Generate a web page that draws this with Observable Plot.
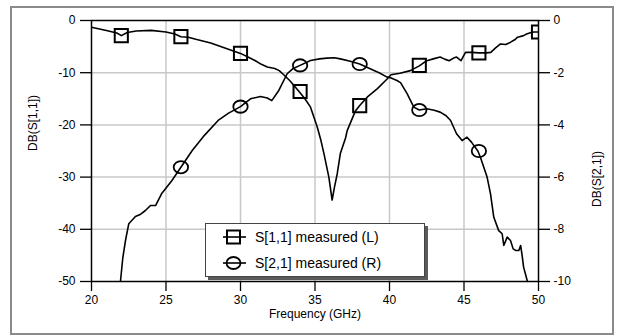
<!DOCTYPE html>
<html>
<head>
<meta charset="utf-8">
<script src="https://cdn.jsdelivr.net/npm/d3@7"></script>
<script src="https://cdn.jsdelivr.net/npm/@observablehq/plot@0.6"></script>
<style>
  body { margin: 0; background: #fff; font-family: "Liberation Sans", Arial, sans-serif; }
  #wrap { position: relative; width: 617px; height: 336px; }
  #outer { position: absolute; left: 10px; top: 6px; width: 604px; height: 329px; box-sizing: border-box; border: 2px solid #8a8a8a; pointer-events: none; }
  #legend { position: absolute; left: 205px; top: 223px; width: 220px; height: 54px; box-sizing: border-box; border: 1px solid #444; background: #fff; box-shadow: 3px 3px 0 #5a5a5a; font-size: 14px; color: #000; }
  .row { position: absolute; left: 16px; height: 20px; display: flex; align-items: center; }
  .row svg { margin-right: 8px; }
</style>
</head>
<body>
<div id="wrap">
  <div id="chart"></div>
  <div id="outer"></div>
  <div id="legend">
    <div class="row" style="top:3px"><svg width="25" height="20"><line x1="1" y1="10" x2="24" y2="10" stroke="#000" stroke-width="1.6"/><rect x="5" y="3.5" width="13" height="13" fill="none" stroke="#000" stroke-width="2"/></svg><span>S[1,1] measured (L)</span></div>
    <div class="row" style="top:29px"><svg width="25" height="20"><line x1="1" y1="10" x2="24" y2="10" stroke="#000" stroke-width="1.6"/><ellipse cx="11.5" cy="10" rx="7" ry="6" fill="none" stroke="#000" stroke-width="1.8"/></svg><span>S[2,1] measured (R)</span></div>
  </div>
</div>
<script>
// S[1,1] measured, dB (left axis)
const s11Freq = [20.0,21.0,21.7,22.0,22.4,23.0,24.0,25.0,25.6,26.0,26.5,27.0,28.0,29.0,30.0,30.5,31.0,31.4,31.8,32.3,32.6,32.9,33.3,33.9,34.3,34.7,35.15,35.4,35.6,35.93,36.15,36.3,36.49,36.7,37.05,37.16,37.7,38.0,38.5,39.17,39.84,40.1,40.7,41.4,42.0,42.5,43.0,43.4,43.7,44.0,44.3,44.5,44.8,45.1,45.5,46.0,46.5,46.8,47.1,47.45,47.8,48.1,48.4,48.6,49.0,49.2,49.5,49.7,50.0];
const s11dB = [-1.3,-1.9,-2.4,-2.9,-2.3,-2.0,-1.9,-2.2,-2.6,-3.1,-3.2,-3.6,-4.3,-5.3,-6.3,-7.0,-7.7,-8.4,-8.9,-9.2,-9.6,-10.4,-11.5,-13.5,-14.9,-16.6,-20.4,-23.0,-25.5,-30.0,-34.4,-32.0,-29.4,-25.5,-22.5,-21.1,-17.4,-16.3,-14.7,-13.1,-11.2,-10.4,-10.1,-9.6,-8.7,-7.7,-7.3,-7.0,-7.4,-7.7,-7.2,-7.0,-7.7,-6.1,-6.1,-6.2,-6.2,-6.1,-5.3,-4.5,-4.6,-4.2,-3.7,-3.2,-2.9,-2.6,-2.3,-2.2,-2.2];
const s11MarkFreq = [22,26,30,34,38,42,46,50];
const s11MarkdB = [-2.9,-3.1,-6.3,-13.6,-16.3,-8.6,-6.2,-2.2];

// S[2,1] measured, dB (right axis)
const s21Freq = [21.9,21.95,22.1,22.28,22.5,22.95,23.3,23.62,23.96,24.3,24.7,25.4,26.0,26.76,27.5,28.5,29.2,30.0,30.67,31.34,31.8,32.1,32.57,33.13,33.5,34.0,34.7,35.3,35.8,36.3,36.7,37.3,38.0,38.7,39.3,39.84,40.07,40.5,40.74,41.19,41.63,42.0,42.5,43.0,43.4,43.8,44.1,44.5,44.87,45.2,45.5,45.93,46.1,46.55,46.78,47.0,47.33,47.56,47.67,47.9,48.12,48.3,48.46,48.68,48.8,48.9,49.0,49.24,49.3];
const s21dB = [-10.6,-9.96,-9.1,-8.43,-7.79,-7.51,-7.42,-7.28,-7.09,-7.09,-6.64,-6.13,-5.62,-4.98,-4.45,-3.83,-3.55,-3.3,-3.0,-2.91,-2.97,-3.07,-2.68,-2.04,-1.85,-1.72,-1.53,-1.47,-1.44,-1.43,-1.47,-1.55,-1.67,-1.85,-2.0,-2.17,-2.19,-2.3,-2.38,-2.81,-3.32,-3.43,-3.38,-3.44,-3.51,-3.65,-3.83,-4.34,-4.6,-4.47,-4.66,-5.0,-5.24,-6.0,-6.64,-7.54,-8.05,-8.17,-8.62,-8.3,-8.43,-8.75,-8.81,-8.81,-8.62,-9.0,-9.45,-9.96,-10.3];
const s21MarkFreq = [22,26,30,34,38,42,46];
const s21MarkdB = [-10.5,-5.62,-3.3,-1.72,-1.67,-3.43,-5.0];

const xTicks = [20,25,30,35,40,45,50];
const leftTicks = [0,-10,-20,-30,-40,-50];
const rightTicks = [0,-2,-4,-6,-8,-10];

const k = 5; // right axis (0..-10) mapped onto left axis (0..-50)
const s11 = s11Freq.map((f,i)=>({f, v:s11dB[i]}));
const s21 = s21Freq.map((f,i)=>({f, v:s21dB[i]*k}));
const s11m = s11MarkFreq.map((f,i)=>({f, v:s11MarkdB[i]}));
const s21m = s21MarkFreq.map((f,i)=>({f, v:s21MarkdB[i]*k}));

const ellipse = {
  draw(ctx, size) {
    const rx = Math.sqrt(size/Math.PI), ry = rx*0.85, c = 0.5523;
    ctx.moveTo(rx,0);
    ctx.bezierCurveTo(rx, ry*c, rx*c, ry, 0, ry);
    ctx.bezierCurveTo(-rx*c, ry, -rx, ry*c, -rx, 0);
    ctx.bezierCurveTo(-rx, -ry*c, -rx*c, -ry, 0, -ry);
    ctx.bezierCurveTo(rx*c, -ry, rx, -ry*c, rx, 0);
    ctx.closePath();
  }
};

const plot = Plot.plot({
  width: 617, height: 336,
  marginLeft: 91, marginRight: 79, marginTop: 20, marginBottom: 55,
  style: {fontSize: "12px", fontFamily: "'Liberation Sans', Arial, sans-serif", color: "#000", background: "transparent"},
  x: {domain: [20,50]},
  y: {domain: [-50,0]},
  marks: [
    Plot.gridX(xTicks.slice(1,-1), {stroke: "#c8c8c8", strokeOpacity: 1, strokeWidth: 1.5}),
    Plot.gridY(leftTicks.slice(1,-1), {stroke: "#c8c8c8", strokeOpacity: 1, strokeWidth: 1.5}),
    Plot.axisX(xTicks, {tickSize: 10, tickPadding: 4, tickFormat: d=>String(d), label: null, strokeWidth: 1.3}),
    Plot.axisY(leftTicks, {anchor: "left", tickSize: 11, tickPadding: 5, tickFormat: d=>String(d), label: null, strokeWidth: 1.3}),
    Plot.axisY(rightTicks.map(d=>d*k), {anchor: "right", tickSize: 11, tickPadding: 4, tickFormat: d=>String(d/k), label: null, strokeWidth: 1.3}),
    Plot.line(s11, {x: "f", y: "v", stroke: "#000", strokeWidth: 1.6, clip: true}),
    Plot.line(s21, {x: "f", y: "v", stroke: "#000", strokeWidth: 1.6, clip: true}),
    Plot.dot(s11m, {x: "f", y: "v", symbol: "square", r: 7.4, stroke: "#000", strokeWidth: 2, fill: "none", clip: true}),
    Plot.dot(s21m, {x: "f", y: "v", symbol: ellipse, r: 7.2, stroke: "#000", strokeWidth: 1.8, fill: "none", clip: true}),
    Plot.frame({stroke: "#000", strokeWidth: 1.5}),
    Plot.text(["Frequency (GHz)"], {frameAnchor: "bottom", dy: 36, fontSize: 12}),
    Plot.text(["DB(S[1,1])"], {frameAnchor: "left", dx: -58, rotate: -90, fontSize: 12}),
    Plot.text(["DB(S[2,1])"], {frameAnchor: "right", dx: 59, rotate: -90, fontSize: 12})
  ]
});
document.getElementById("chart").appendChild(plot);
</script>
</body>
</html>
